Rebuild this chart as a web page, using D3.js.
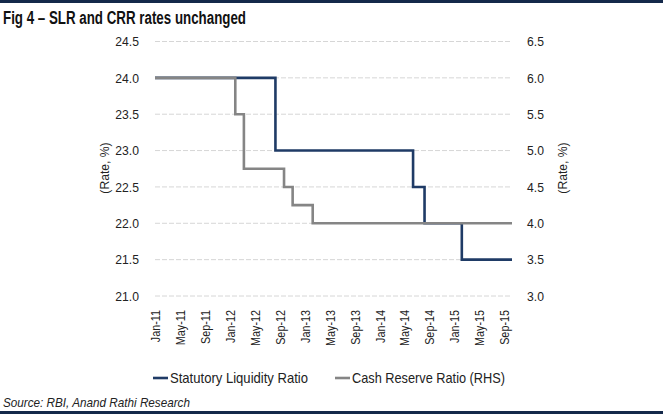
<!DOCTYPE html>
<html><head><meta charset="utf-8">
<script src="https://cdn.jsdelivr.net/npm/d3@7"></script>
<style>
body{margin:0;background:#fff;}
svg{display:block;}
text{font-family:"Liberation Sans",Arial,sans-serif;}
</style></head>
<body>
<script>
const slrDates = ["2011-01-01","2012-08-11","2014-06-14","2014-08-09","2015-02-07","2015-10-10"];
const slrValues = [24.0, 23.0, 22.5, 22.0, 21.5, 21.5];
const crrDates = ["2011-01-01","2012-01-28","2012-03-10","2012-09-22","2012-11-03","2013-02-09","2015-10-10"];
const crrValues = [6.0, 5.5, 4.75, 4.5, 4.25, 4.0, 4.0];
const xTickLabels = ["Jan-11","May-11","Sep-11","Jan-12","May-12","Sep-12","Jan-13","May-13","Sep-13","Jan-14","May-14","Sep-14","Jan-15","May-15","Sep-15"];
const leftTicks = [21.0,21.5,22.0,22.5,23.0,23.5,24.0,24.5];
const rightTicks = [3.0,3.5,4.0,4.5,5.0,5.5,6.0,6.5];
const seriesNames = ["Statutory Liquidity Ratio","Cash Reserve Ratio (RHS)"];

const W=663,H=418;
const svg=d3.select("body").append("svg").attr("width",W).attr("height",H);
const parse=d3.timeParse("%Y-%m-%d");
const parseTick=d3.timeParse("%b-%y");

function squeeze(sel,f){
  sel.each(function(){
    const w=this.getComputedTextLength();
    d3.select(this).attr("textLength",w*f).attr("lengthAdjust","spacingAndGlyphs");
  });
}

const x=d3.scaleTime().domain([parse("2011-01-01"),parse("2015-10-10")]).range([155,512]);
const yL=d3.scaleLinear().domain([21,24.5]).range([296,41.5]);
const yR=d3.scaleLinear().domain([3,6.5]).range([296,41.5]);

// top bar & bottom line
svg.append("rect").attr("x",0).attr("y",0).attr("width",W).attr("height",3).attr("fill","#14294a");
svg.append("rect").attr("x",0).attr("y",411).attr("width",W).attr("height",3).attr("fill","#14294a");

// title
const title=svg.append("text").attr("x",3).attr("y",24).attr("font-size",18).attr("font-weight","bold").attr("fill","#111")
  .text("Fig 4 \u2013  SLR and CRR rates unchanged");
title.attr("textLength",243).attr("lengthAdjust","spacingAndGlyphs");

// gridlines
svg.append("g").selectAll("line").data(leftTicks).join("line")
  .attr("x1",155).attr("x2",512).attr("y1",d=>yL(d)).attr("y2",d=>yL(d))
  .attr("stroke","#d6d6d6").attr("stroke-width",1).attr("stroke-dasharray","5,2");

// left axis
const gL=svg.append("g").attr("transform","translate(139,0)")
  .call(d3.axisLeft(yL).tickValues(leftTicks).tickFormat(d3.format(".1f")).tickSize(0).tickPadding(0));
gL.select(".domain").remove();
gL.selectAll("text").attr("font-size",13.5).attr("fill","#222").attr("font-family",null);
squeeze(gL.selectAll("text"),0.9);

const gR=svg.append("g").attr("transform","translate(527,0)")
  .call(d3.axisRight(yR).tickValues(rightTicks).tickFormat(d3.format(".1f")).tickSize(0).tickPadding(0));
gR.select(".domain").remove();
gR.selectAll("text").attr("font-size",13.5).attr("fill","#222").attr("font-family",null);
squeeze(gR.selectAll("text"),0.9);

// axis titles
const t1=svg.append("text").attr("transform","translate(109,168) rotate(-90)").attr("text-anchor","middle")
  .attr("font-size",13.5).attr("fill","#222").text("(Rate, %)");
const t2=svg.append("text").attr("transform","translate(567,168) rotate(-90)").attr("text-anchor","middle")
  .attr("font-size",13.5).attr("fill","#222").text("(Rate, %)");
squeeze(t1,0.9);squeeze(t2,0.9);

// x axis labels
const gX=svg.append("g").attr("transform","translate(0,306)")
  .call(d3.axisBottom(x).tickValues(xTickLabels.map(parseTick)).tickFormat(d3.timeFormat("%b-%y")).tickSize(0).tickPadding(0));
gX.select(".domain").remove();
gX.selectAll("text").attr("font-size",13.5).attr("fill","#222").attr("font-family",null)
  .attr("transform","rotate(-90)").attr("text-anchor","end").attr("dy","0.35em").attr("x",-4).attr("y",0);
squeeze(gX.selectAll("text"),0.8);

// lines
const slr=slrDates.map((d,i)=>({d:parse(d),v:slrValues[i]}));
const crr=crrDates.map((d,i)=>({d:parse(d),v:crrValues[i]}));
svg.append("path").datum(slr).attr("fill","none").attr("stroke","#1f3b66").attr("stroke-width",2.6)
  .attr("d",d3.line().x(d=>x(d.d)).y(d=>yL(d.v)).curve(d3.curveStepAfter));
svg.append("path").datum(crr).attr("fill","none").attr("stroke","#858585").attr("stroke-width",2.6)
  .attr("d",d3.line().x(d=>x(d.d)).y(d=>yR(d.v)).curve(d3.curveStepAfter));

// legend
const leg=[{n:seriesNames[0],c:"#1f3b66",x:153,w:138},{n:seriesNames[1],c:"#858585",x:335,w:153}];
const lg=svg.append("g").selectAll("g").data(leg).join("g").attr("transform",d=>`translate(${d.x},378)`);
lg.append("line").attr("x1",0).attr("x2",15).attr("y1",0).attr("y2",0).attr("stroke",d=>d.c).attr("stroke-width",2.6);
lg.append("text").attr("x",17).attr("y",5).attr("font-size",14.5).attr("fill","#222").text(d=>d.n)
  .attr("textLength",d=>d.w).attr("lengthAdjust","spacingAndGlyphs");

// source
svg.append("text").attr("x",3).attr("y",407).attr("font-size",13).attr("font-style","italic").attr("fill","#222")
  .text("Source: RBI, Anand Rathi Research").attr("textLength",187).attr("lengthAdjust","spacingAndGlyphs");
</script>
</body></html>
